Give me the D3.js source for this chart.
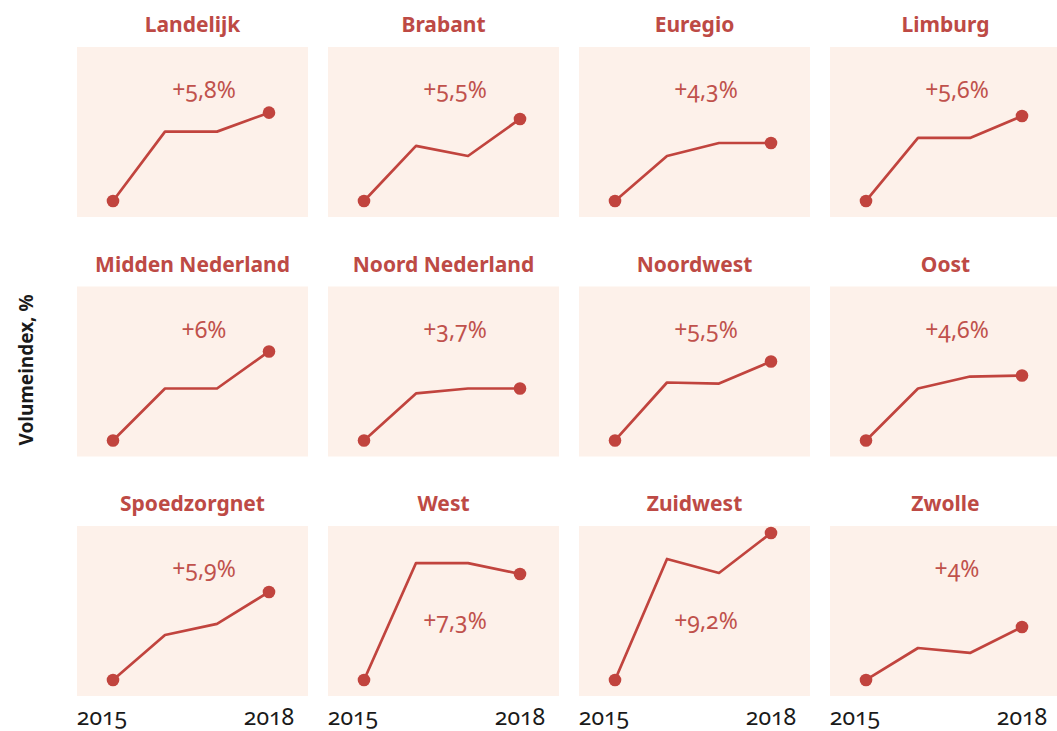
<!DOCTYPE html>
<html>
<head>
<meta charset="utf-8">
<script src="https://cdn.jsdelivr.net/npm/d3@7"></script>
<style>
  body { margin: 0; background: #fff; }
  svg { display: block; font-family: 'Noto Sans', sans-serif; }
  .title { font-weight: 700; fill: #bd4a45; }
  .change { fill: #c0514c; font-variant-numeric: oldstyle-nums; }
  .year { fill: #1a1a1a; font-variant-numeric: oldstyle-nums; }
</style>
</head>
<body>
<svg></svg>
<script>
const WIDTH = 1057;
const HEIGHT = 731;

// Regions, in reading order (4 per row).
const regions = [
  'Landelijk', 'Brabant', 'Euregio', 'Limburg',
  'Midden Nederland', 'Noord Nederland', 'Noordwest', 'Oost',
  'Spoedzorgnet', 'West', 'Zuidwest', 'Zwolle'
];

const years = [2015, 2016, 2017, 2018];

// Volume change vs 2015, in %.
const landelijk = [0, 4.75, 4.75, 6.05];
const brabant = [0, 3.77, 3.08, 5.62];
const euregio = [0, 3.08, 3.97, 3.97];
const limburg = [0, 4.32, 4.32, 5.82];
const middenNederland = [0, 3.56, 3.56, 6.1];
const noordNederland = [0, 3.22, 3.56, 3.56];
const noordwest = [0, 3.97, 3.9, 5.41];
const oost = [0, 3.56, 4.38, 4.45];
const spoedzorgnet = [0, 3.08, 3.84, 6.03];
const west = [0, 8.01, 8.01, 7.26];
const zuidwest = [0, 8.29, 7.33, 10.07];
const zwolle = [0, 2.19, 1.85, 3.63];

const series = [
  landelijk, brabant, euregio, limburg,
  middenNederland, noordNederland, noordwest, oost,
  spoedzorgnet, west, zuidwest, zwolle
];

// Printed growth 2015-2018 per region.
const changes = [5.8, 5.5, 4.3, 5.6, 6, 3.7, 5.5, 4.6, 5.9, 7.3, 9.2, 4];

// Regions where the label sits under the line.
const labelBelow = ['West', 'Zuidwest'];

const COLOR = '#c1443e';
const PANEL_W = 231;
const PANEL_H = 170;

const svg = d3.select('svg')
  .attr('width', WIDTH)
  .attr('height', HEIGHT)
  .attr('viewBox', `0 0 ${WIDTH} ${HEIGHT}`);

const col = d3.scalePoint().domain([0, 1, 2, 3]).range([77, 830]);
const row = d3.scalePoint().domain([0, 1, 2]).range([47, 526]);

const x = d3.scalePoint().domain(years).range([36, 192]);
const y = d3.scaleLinear().domain([-1.1, 10.55]).range([PANEL_H, 0]);

const line = d3.line()
  .x((d, i) => x(years[i]))
  .y(d => y(d));

const fmt = v => '+' + String(v).replace('.', ',') + '%';

regions.forEach((name, i) => {
  const r = Math.floor(i / 4);
  const c = i % 4;
  const g = svg.append('g')
    .attr('transform', `translate(${col(c)},${row(r)})`);

  g.append('rect')
    .attr('width', PANEL_W)
    .attr('height', PANEL_H)
    .attr('fill', '#fdf1ea');

  g.append('text')
    .attr('class', 'title')
    .attr('x', PANEL_W / 2)
    .attr('y', -15)
    .attr('text-anchor', 'middle')
    .style('font-size', '21px')
    .text(name);

  g.append('text')
    .attr('class', 'change')
    .attr('x', 127)
    .attr('y', labelBelow.includes(name) ? 103 : 51)
    .attr('text-anchor', 'middle')
    .style('font-size', '23px')
    .text(fmt(changes[i]));

  const values = series[i];
  g.append('path')
    .attr('d', line(values))
    .attr('fill', 'none')
    .attr('stroke', COLOR)
    .attr('stroke-width', 2.7)
    .attr('stroke-linejoin', 'round');

  g.selectAll('circle')
    .data([0, values.length - 1])
    .join('circle')
    .attr('cx', k => x(years[k]))
    .attr('cy', k => y(values[k]))
    .attr('r', 6.3)
    .attr('fill', COLOR);

  if (r === 2) {
    g.append('text')
      .attr('class', 'year')
      .attr('x', x(2015) - 11)
      .attr('y', 199)
      .attr('text-anchor', 'middle')
      .style('font-size', '23px')
      .text('2015');
    g.append('text')
      .attr('class', 'year')
      .attr('x', x(2018))
      .attr('y', 199)
      .attr('text-anchor', 'middle')
      .style('font-size', '23px')
      .text('2018');
  }
});

// Y axis title.
svg.append('text')
  .attr('transform', 'translate(33,370) rotate(-90)')
  .attr('text-anchor', 'middle')
  .style('font-size', '19px')
  .style('font-weight', 700)
  .attr('fill', '#1a1a1a')
  .text('Volumeindex, %');
</script>
</body>
</html>
